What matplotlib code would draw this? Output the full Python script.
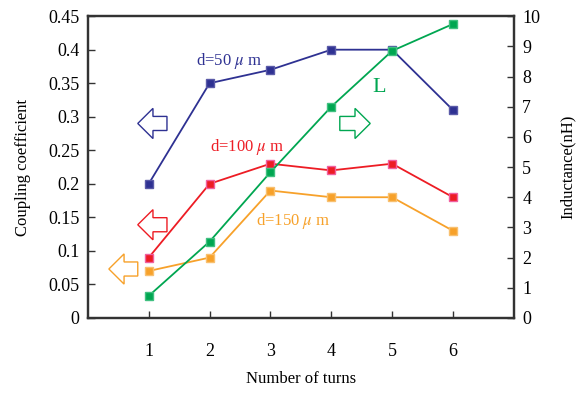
import matplotlib.pyplot as plt
from matplotlib.patches import FancyArrow

plt.rcParams['font.family'] = 'Liberation Serif'
plt.rcParams['mathtext.fontset'] = 'stix'

turns = [1, 2, 3, 4, 5, 6]
k_50 = [0.20, 0.35, 0.37, 0.40, 0.40, 0.31]
k_100 = [0.09, 0.20, 0.23, 0.22, 0.23, 0.18]
k_150 = [0.07, 0.09, 0.19, 0.18, 0.18, 0.13]
inductance = [0.73, 2.53, 4.83, 7.0, 8.85, 9.74]

left_ticks = [0, 0.05, 0.1, 0.15, 0.2, 0.25, 0.3, 0.35, 0.4, 0.45]
left_labels = ['0', '0.05', '0.1', '0.15', '0.2', '0.25', '0.3', '0.35', '0.4', '0.45']

blue = '#2E3192'
red = '#ED1C24'
orange = '#F7A12A'
green = '#00A651'

fig = plt.figure(figsize=(5.78, 3.94), dpi=100)
ax = fig.add_axes([0.152, 0.193, 0.737, 0.766])
ax2 = ax.twinx()

ms = 5.5
ax.plot(turns, k_50, color=blue, marker='s', ms=ms, mec='#5a5aa8', lw=1.3)
ax.plot(turns, k_100, color=red, marker='s', ms=ms, mec='#f060a0', lw=1.3)
ax.plot(turns, k_150, color=orange, marker='s', ms=ms, mec='#f8c070', lw=1.3)
ax2.plot(turns, inductance, color=green, marker='s', ms=ms, mec='#40c080', lw=1.3)

ax.set_xlim(0, 7)
ax.set_ylim(0, 0.45)
ax2.set_ylim(0, 10)
ax.set_xticks(turns)
ax.set_yticks(left_ticks)
ax.set_yticklabels(left_labels)
ax2.set_yticks(range(0, 11))

for a in (ax, ax2):
    a.tick_params(direction='in', length=5, width=1, color='#333333', labelsize=13)
    for s in a.spines.values():
        s.set_linewidth(1.6)
        s.set_color('#333333')
ax.tick_params(axis='x', pad=18)
ax.tick_params(axis='y', pad=6)
ax2.tick_params(axis='y', pad=6)

ax.set_xlabel('Number of turns', fontsize=12, labelpad=8)
ax.set_ylabel('Coupling coefficient', fontsize=12, labelpad=12)
ax2.set_ylabel('Inductance(nH)', fontsize=12, labelpad=14)

# hollow arrows pointing to the relevant axis
def arrow(x_tail, x_tip, y, color):
    ax.add_patch(FancyArrow(x_tail, y, x_tip - x_tail, 0, width=0.021,
                            head_width=0.045, head_length=0.25,
                            length_includes_head=True, fill=False,
                            edgecolor=color, lw=1.0))

arrow(1.30, 0.82, 0.29, blue)
arrow(1.30, 0.82, 0.139, red)
arrow(0.82, 0.345, 0.073, orange)
arrow(4.14, 4.64, 0.29, green)

ax.text(1.78, 0.383, r'd=50 $\mu$ m', color=blue, fontsize=12, va='center')
ax.text(2.0, 0.255, r'd=100 $\mu$ m', color=red, fontsize=12, va='center')
ax.text(2.76, 0.145, r'd=150 $\mu$ m', color=orange, fontsize=12, va='center')
ax.text(4.67, 0.343, 'L', color=green, fontsize=16, va='center')

fig.savefig('out.png', dpi=100)
